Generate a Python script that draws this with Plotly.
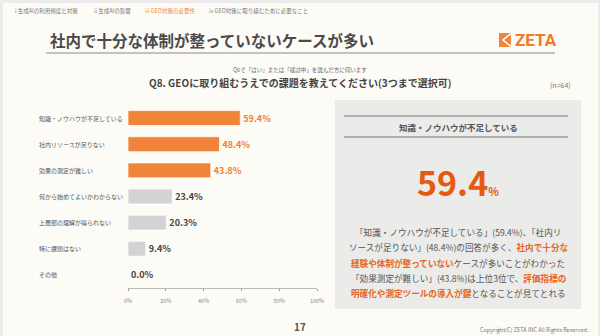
import plotly.graph_objects as go

categories = ["知識・ノウハウが不足している", "社内リソースが足りない", "効果の測定が難しい",
              "何から始めてよいかわからない", "上層部の理解が得られない", "特に課題はない", "その他"]
values = [59.4, 48.4, 43.8, 23.4, 20.3, 9.4, 0.0]
highlight = [True, True, True, False, False, False, False]
tick_vals = [0, 20, 40, 60, 80, 100]
tick_text = ["0%", "20%", "40%", "60%", "80%", "100%"]

FONT = "Noto Sans CJK JP"
ORANGE = "#F0843A"
ORANGE_TXT = "#E8641B"
GREY_BAR = "#D3D3D3"

W, H = 600, 336
PL, PR, PT, PB = 128, 317, 105, 288


def px(x):
    return (x - PL) / (PR - PL)


def py(y):
    return (PB - y) / (PB - PT)


bar_colors = [ORANGE if h else GREY_BAR for h in highlight]
text_colors = ["#F07F30" if h else "#444444" for h in highlight]

fig = go.Figure()
fig.add_trace(go.Bar(
    x=values, y=categories, orientation="h",
    marker=dict(color=bar_colors, line=dict(color="rgba(255,255,255,0.7)", width=1)),
    width=0.57,
    text=[f"{v:.1f}%" for v in values], textposition="outside",
    textfont=dict(family=FONT, size=9, color=text_colors, weight="bold"),
    cliponaxis=False, hoverinfo="skip",
))

shapes = []
# slide background with thin border
shapes.append(dict(type="rect", xref="paper", yref="paper", x0=px(3), x1=px(598), y0=py(336), y1=py(3),
                   fillcolor="#FDFBF6", line=dict(width=0), layer="below"))
# title underline
shapes.append(dict(type="line", xref="paper", yref="paper", x0=px(46), x1=px(555), y0=py(53), y1=py(53),
                   line=dict(color="#8A8A8A", width=1.2)))
# right box
shapes.append(dict(type="rect", xref="paper", yref="paper", x0=px(335), x1=px(581), y0=py(309), y1=py(100),
                   fillcolor="#EBEBE9", line=dict(width=0), layer="below"))
shapes.append(dict(type="line", xref="paper", yref="paper", x0=px(344), x1=px(568), y0=py(116), y1=py(116),
                   line=dict(color="#777777", width=1.2)))
shapes.append(dict(type="line", xref="paper", yref="paper", x0=px(344), x1=px(568), y0=py(137), y1=py(137),
                   line=dict(color="#777777", width=1.2)))
# logo icon
shapes.append(dict(type="rect", xref="paper", yref="paper", x0=px(499), x1=px(511), y0=py(47), y1=py(33),
                   fillcolor="#F0843A", line=dict(width=0)))
shapes.append(dict(type="path", xref="paper", yref="paper",
                   path=f"M {px(511)} {py(33.5)} L {px(503)} {py(40)} L {px(511)} {py(46.5)}",
                   line=dict(color="white", width=1.6)))

ann = []


def T(x, y, text, size, color="#555555", xanchor="left", bold=False, family=FONT):
    ann.append(dict(xref="paper", yref="paper", x=px(x), y=py(y), text=text, showarrow=False,
                    xanchor=xanchor, yanchor="middle",
                    font=dict(family=family, size=size, color=color, weight="bold" if bold else "normal")))


# breadcrumbs
T(13, 11, "i 生成AIの利用頻度と対策", 5.5, "#777777")
T(92, 11, "ii 生成AIの影響", 5.5, "#777777")
T(143, 11, "iii GEO対策の必要性", 5.5, "#F08437")
T(207, 11, "iv GEO対策に取り組むために必要なこと", 5.5, "#777777")
# title
T(48, 40, "社内で十分な体制が整っていないケースが多い", 15.5, "#4A4A4A", bold=True)
# logo text
T(513, 40, "ZETA", 17, "#F07A2A", bold=True, family="Roboto")
# question
T(300, 70, "Q6で「はい」または「検討中」を選んだ方に伺います", 5.5, "#666666", xanchor="center")
T(300, 82, "Q8. GEOに取り組むうえでの課題を教えてください(3つまで選択可)", 10, "#444444", xanchor="center", bold=True)
T(573, 85, "(n=64)", 7, "#777777", xanchor="right")
# category labels
for c in categories:
    ann.append(dict(xref="paper", yref="y", x=px(37), y=c, text=c, showarrow=False, xanchor="left",
                    yanchor="middle", font=dict(family=FONT, size=6, color="#555555")))
# box contents
T(458, 126.5, "知識・ノウハウが不足している", 8.5, "#555555", xanchor="center", bold=True)
ann.append(dict(xref="paper", yref="paper", x=px(458), y=py(181), showarrow=False, xanchor="center",
                yanchor="middle",
                text="59.4<span style='font-size:11px'>%</span>",
                font=dict(family=FONT, size=34, color="#E45A10", weight="bold")))
OB = "<b><span style='color:#E8641B'>{}</span></b>"
lines = [
    "「知識・ノウハウが不足している」(59.4%)、「社内リ",
    "ソースが足りない」(48.4%)の回答が多く、" + OB.format("社内で十分な"),
    OB.format("経験や体制が整っていない") + "ケースが多いことがわかった",
    "「効果測定が難しい」(43.8%)は上位3位で、" + OB.format("評価指標の"),
    OB.format("明確化や測定ツールの導入が鍵") + "となることが見てとれる",
]
for i, ln in enumerate(lines):
    T(458, 232 + i * 15.3, ln, 8.6, "#555555", xanchor="center")
# footer
T(300, 326, "17", 10, "#555555", xanchor="center", bold=True)
T(591, 330, "Copyright(C) ZETA INC All Rights Reserved.", 5.5, "#777777", xanchor="right")

fig.update_layout(
    width=W, height=H,
    margin=dict(l=PL, r=W - PR, t=PT, b=H - PB),
    paper_bgcolor="#ECECEC", plot_bgcolor="rgba(0,0,0,0)",
    showlegend=False, bargap=0.4,
    shapes=shapes, annotations=ann,
    font=dict(family=FONT),
    xaxis=dict(range=[0, 100], tickvals=tick_vals, ticktext=tick_text, showgrid=False, zeroline=False,
               showline=True, linecolor="#BBBBBB", linewidth=1, ticks="outside", ticklen=2,
               tickcolor="#999999", tickfont=dict(family=FONT, size=5.5, color="#888888"),
               ticklabelstandoff=5, fixedrange=True),
    yaxis=dict(autorange="reversed", showticklabels=False, showgrid=False, zeroline=False,
               showline=False, ticks="", fixedrange=True),
)

fig.write_html("out.html", config={"displayModeBar": False})
